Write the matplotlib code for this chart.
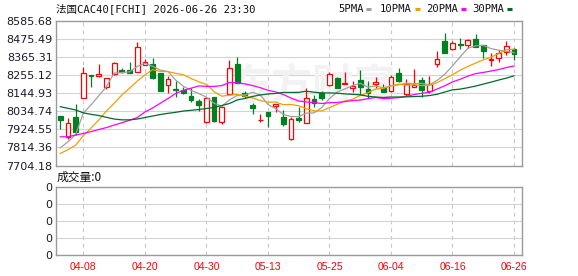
import numpy as np
import pandas as pd
import matplotlib as mpl
mpl.use("Agg")
import matplotlib.pyplot as plt
from matplotlib.lines import Line2D

# -----------------------------------------------------------------------------
# Data
# -----------------------------------------------------------------------------
dates = [d for d in pd.bdate_range("2026-04-03", "2026-06-26") if d.strftime("%m-%d") != "05-01"]

opens = [8004.1, 7879.2, 7998.0, 8114.3, 8256.9, 8252.7, 8181.6, 8261.3, 8287.6, 8287.6,
         8273.5, 8318.2, 8324.3, 8271.0, 8193.9, 8171.2, 8165.1, 8126.5, 8096.0, 7969.2,
         8120.4, 7967.4, 8138.8, 8326.1, 8144.9, 8075.1, 7979.6, 8028.6, 8069.0, 8001.7,
         7865.2, 7993.7, 7961.3, 8108.2, 8144.9, 8193.9, 8236.7, 8200.0, 8179.2, 8226.3,
         8171.2, 8200.0, 8177.4, 8157.2, 8267.4, 8140.6, 8185.3, 8226.3, 8159.0, 8322.4,
         8463.3, 8414.3, 8442.4, 8438.8, 8477.3, 8440.6, 8346.9, 8359.2, 8399.6, 8414.3]
highs = [8006.0, 7991.9, 8077.6, 8304.1, 8256.9, 8324.3, 8236.7, 8336.5, 8297.9, 8336.5,
         8458.9, 8356.7, 8359.2, 8271.0, 8250.8, 8220.2, 8185.3, 8175.5, 8110.0, 8120.4,
         8124.1, 8065.3, 8348.8, 8369.0, 8160.8, 8083.7, 8018.2, 8028.6, 8081.3, 8042.7,
         8001.7, 8062.9, 8175.5, 8134.5, 8159.0, 8277.1, 8242.9, 8277.1, 8220.2, 8287.5,
         8220.2, 8242.9, 8200.0, 8256.9, 8297.9, 8230.6, 8291.8, 8242.9, 8250.8, 8403.9,
         8512.2, 8460.8, 8481.6, 8475.5, 8507.9, 8440.6, 8389.8, 8410.0, 8460.8, 8420.4]
lows = [7926.4, 7863.3, 7889.6, 8114.3, 8185.3, 8246.5, 8169.4, 8256.9, 8271.0, 8267.3,
        8273.5, 8318.2, 8230.6, 8160.8, 8148.6, 8124.1, 8140.6, 8093.5, 8038.4, 7961.3,
        7967.4, 7958.8, 8134.5, 8209.8, 8114.3, 8016.4, 7967.4, 7936.8, 8032.3, 7946.5,
        7859.1, 7971.1, 7961.3, 8059.2, 8103.9, 8187.8, 8175.5, 8200.0, 8154.7, 8134.5,
        8114.3, 8179.2, 8154.7, 8154.7, 8215.9, 8128.4, 8181.6, 8120.4, 8148.6, 8307.8,
        8389.8, 8410.0, 8414.3, 8420.4, 8424.1, 8359.2, 8312.0, 8338.4, 8379.4, 8348.8]
closes = [7983.3, 7961.3, 7909.9, 8267.4, 8247.7, 8263.1, 8236.7, 8328.6, 8277.1, 8271.0,
          8426.5, 8334.7, 8236.7, 8160.8, 8230.6, 8163.3, 8148.6, 8103.9, 8073.3, 8114.3,
          7977.2, 8061.1, 8297.9, 8209.8, 8128.4, 8053.1, 7984.5, 8006.0, 8081.3, 7955.0,
          7987.6, 7981.5, 8114.3, 8087.4, 8117.9, 8261.3, 8179.2, 8209.8, 8189.6, 8185.3,
          8148.6, 8214.1, 8154.7, 8242.9, 8220.2, 8201.9, 8195.7, 8165.1, 8200.0, 8353.1,
          8389.8, 8451.0, 8438.8, 8467.0, 8424.1, 8405.7, 8351.8, 8389.8, 8430.2, 8385.5]

# moving-average values before enough closes are on screen
ma5_head = [7811.9, 7848.6, 7893.9, 8024.3]
ma10_head = [7777.6, 7800.9, 7828.4, 7886.6, 7932.5, 7981.5, 8036.6, 8083.7, 8134.5]
ma20_head = [7879.3, 7879.3, 7889.6, 7900.0, 7911.1, 7923.3, 7935.6, 7950.8, 7964.9, 7979.6,
             7996.8, 8030.4, 8054.9, 8083.7, 8112.6, 8143.7, 8163.3, 8175.5, 8189.6]
ma30_head = [8062.9, 8053.1, 8042.7, 8025.5, 8016.4, 8009.0, 7998.0, 7987.6, 7982.7, 7982.7,
             7987.6, 7996.8, 8006.0, 8015.1, 8022.5, 8028.6, 8036.6, 8040.8, 8045.7, 8051.9,
             8058.0, 8070.2, 8082.5, 8103.9, 8113.1, 8125.3, 8134.5, 8140.6, 8143.7]

tick_dates = ["04-08", "04-20", "04-30", "05-13", "05-25", "06-04", "06-16", "06-26"]
price_ticks = [7704.18, 7814.36, 7924.55, 8034.74, 8144.93, 8255.12, 8365.31, 8475.49, 8585.68]
volume = [0] * len(dates)

# -----------------------------------------------------------------------------
# Style
# -----------------------------------------------------------------------------
RED = "#ff0000"
GREEN = "#008020"
MA_STYLE = [
    ("5PMA", 5, ma5_head, "#a0a0a0"),
    ("10PMA", 10, ma10_head, "#f0a000"),
    ("20PMA", 20, ma20_head, "#ff00ff"),
    ("30PMA", 30, ma30_head, "#006a2c"),
]
FRAME = "#9a9a9a"
GRID = "#d4d4d4"
W, H = 578, 276


def fx(px):
    return px / W


def fy(py):
    return 1 - py / H


fig = plt.figure(figsize=(W / 100, H / 100), dpi=100)
fig.patch.set_facecolor("white")

ax = fig.add_axes([fx(56), fy(165.5), fx(522.3) - fx(56), fy(21) - fy(165.5)])
axv = fig.add_axes([fx(56), fy(255), fx(522.3) - fx(56), fy(186.7) - fy(255)])

n = len(closes)
x = np.arange(n)
labels = [d.strftime("%m-%d") for d in dates]
tick_idx = [labels.index(t) for t in tick_dates]

for a in (ax, axv):
    a.set_xlim(-0.56, n + 0.08)
    for s in a.spines.values():
        s.set_color(FRAME)
        s.set_linewidth(1.0)
    a.tick_params(length=0)
    for t in tick_idx:
        a.axvline(t, color="#c8c8c8", lw=0.8, ls=(0, (3.5, 3.5)), zorder=0)

# main price panel
ax.set_ylim(price_ticks[0], price_ticks[-1])
ax.set_yticks(price_ticks)
ax.set_yticklabels([f"{v:.2f}" for v in price_ticks], fontsize=8, color="#1a1a2a")
ax.tick_params(axis="y", pad=2.5)
ax.set_xticks([])
for v in price_ticks[1:-1]:
    ax.axhline(v, color=GRID, lw=0.8, zorder=0)

ax.text(0.55, 0.55, "东方财富", transform=ax.transAxes, fontsize=30,
        family=["Noto Sans CJK SC"], color="#f2f2f4", ha="center", va="center",
        fontweight="bold", zorder=0)

bw = 0.62
for i in range(n):
    o, h, l, c = opens[i], highs[i], lows[i], closes[i]
    lo_b, hi_b = min(o, c), max(o, c)
    if c >= o:
        ax.vlines(i, l, lo_b, color=RED, lw=0.9, zorder=3)
        ax.vlines(i, hi_b, h, color=RED, lw=0.9, zorder=3)
        ax.bar(i, hi_b - lo_b, bottom=lo_b, width=bw, facecolor="white",
               edgecolor=RED, linewidth=0.9, zorder=3)
    else:
        ax.vlines(i, l, h, color=GREEN, lw=0.9, zorder=3)
        ax.bar(i, hi_b - lo_b, bottom=lo_b, width=bw, facecolor=GREEN,
               edgecolor=GREEN, linewidth=0.9, zorder=3)

close_s = pd.Series(closes)
for name, win, head, color in MA_STYLE:
    ma = close_s.rolling(win).mean().values.copy()
    ma[:len(head)] = head
    ax.plot(x, ma, color=color, lw=0.9, zorder=4)

# volume panel
axv.set_ylim(0, 4)
axv.set_yticks(range(5))
axv.set_yticklabels(["0"] * 5, fontsize=8, color="#1a1a2a")
axv.tick_params(axis="y", pad=2.5)
for v in range(1, 4):
    axv.axhline(v, color=GRID, lw=0.8, zorder=0)
axv.bar(x, volume, width=bw, color=GREEN)
axv.set_xticks(tick_idx)
axv.set_xticklabels(tick_dates, fontsize=7.5, color=RED, family="Liberation Sans")
axv.tick_params(axis="x", pad=5)

# header texts and legend
mono = ["DejaVu Sans Mono", "Noto Sans CJK SC"]
fig.text(fx(56.5), fy(8.5), "法国CAC40[FCHI] 2026-06-26 23:30", family=mono,
         fontsize=7.6, color="#111111", ha="left", va="center")
fig.text(fx(57), fy(177.5), "成交量:0", family=["Noto Sans CJK SC", "DejaVu Sans"],
         fontsize=8.5, color="#111111", ha="left", va="center")

leg_x = [338, 380, 426, 472]
for (name, win, head, color), lx in zip(MA_STYLE, leg_x):
    fig.text(fx(lx), fy(9), name, family="DejaVu Sans Mono", fontsize=7.6,
             color="#111111", ha="left", va="center")
    tx = lx + 6.2 * len(name) + 3.5
    fig.add_artist(Line2D([fx(tx), fx(tx + 5)], [fy(9), fy(9)], color=color,
                          lw=2.2, solid_capstyle="butt"))

fig.savefig("out.png", dpi=100)
